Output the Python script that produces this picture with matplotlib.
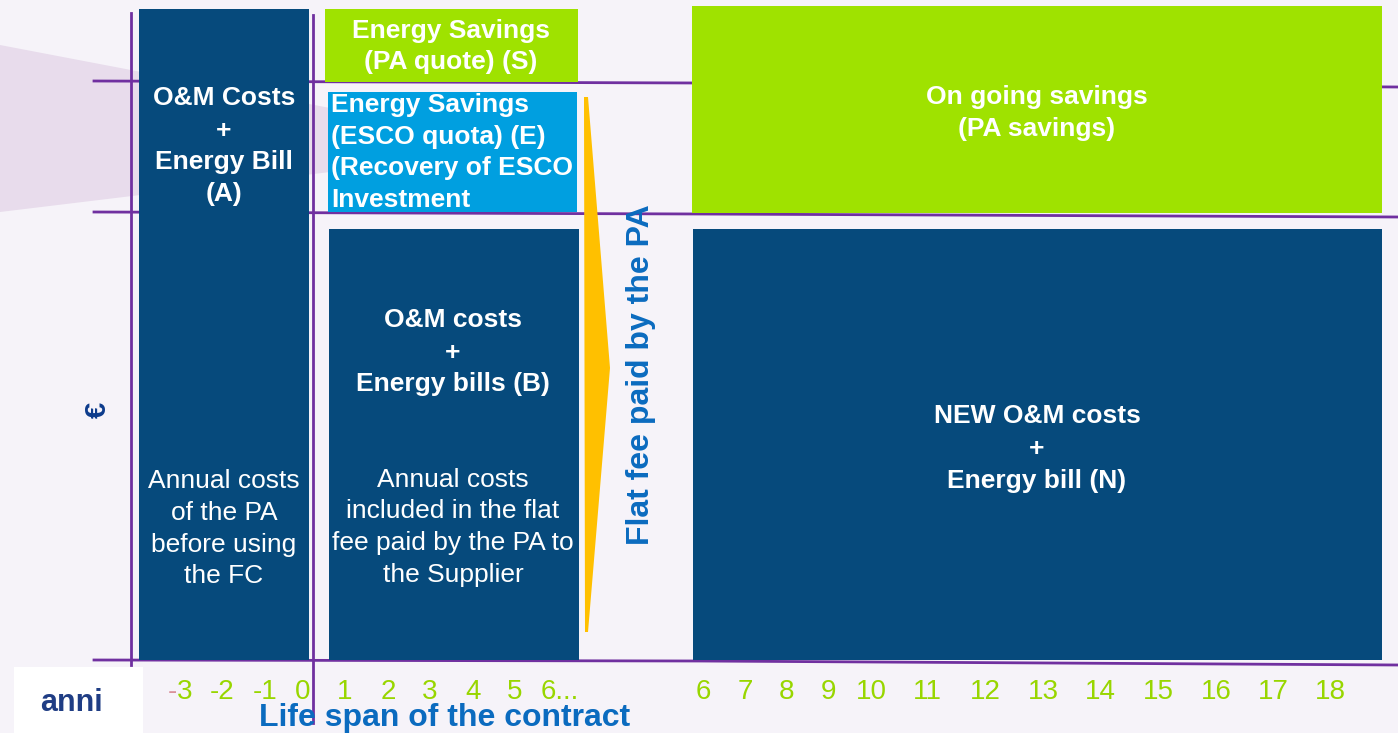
import matplotlib
matplotlib.use("Agg")
import matplotlib.pyplot as plt
from matplotlib.patches import Rectangle, Polygon
from matplotlib import font_manager

# ---------------- data ----------------
years_before = ["-3", "-2", "-1", "0"]
years_contract = ["1", "2", "3", "4", "5", "6..."]
years_after = ["6", "7", "8", "9", "10", "11", "12", "13", "14", "15", "16", "17", "18"]

box_names = ["A", "S", "E", "B", "G", "N"]
box_titles = [
    ["O&M Costs", "+", "Energy Bill", "(A)"],
    ["Energy Savings", "(PA quote) (S)"],
    ["Energy Savings", "(ESCO quota) (E)", "(Recovery of ESCO", "Investment"],
    ["O&M costs", "+", "Energy bills (B)"],
    ["On going savings", "(PA savings)"],
    ["NEW O&M costs", "+", "Energy bill (N)"],
]
box_notes = [
    ["Annual costs", "of the PA", "before using", "the FC"],
    [],
    [],
    ["Annual costs", "included in the flat", "fee paid by the PA to", "the Supplier"],
    [],
    [],
]
x_title = "Life span of the contract"
y_title = "€"
arrow_label = "Flat fee paid by the PA"
unit_label = "anni"

# ---------------- layout (pixel space) ----------------
W, H = 1398, 733
NAVY = "#064a7c"
GREEN = "#9fe200"
BLUE = "#009fe0"
PURPLE = "#7030a0"
TICKG = "#98d600"
TXTBLUE = "#0b6bbf"
SANS = "Liberation Sans"

try:
    font_manager.findfont("Liberation Sans Narrow", fallback_to_default=False)
    NARROW, TICKSIZE = "Liberation Sans Narrow", 21
except Exception:
    NARROW, TICKSIZE = SANS, 20

box_geom = {  # x0, y0, x1, y1
    "A": (139, 9, 309, 660),
    "S": (325, 9, 578, 82),
    "E": (328, 92, 577, 212),
    "B": (329, 229, 579, 660),
    "G": (692, 6, 1382, 213),
    "N": (693, 229, 1382, 660),
}
box_color = {"A": NAVY, "S": GREEN, "E": BLUE, "B": NAVY, "G": GREEN, "N": NAVY}
title_x = {"A": 224, "S": 451, "E": 331, "B": 453, "G": 1037, "N": 1037}
title_base = {"A": [105, 138, 169, 201], "S": [38, 69], "E": [112, 144, 175, 207],
              "B": [327, 360, 391], "G": [104, 136], "N": [423, 456, 488]}
title_align = {"A": "center", "S": "center", "E": "left", "B": "center",
               "G": "center", "N": "center"}
note_x = {"A": 224, "B": 453}
note_base = {"A": [488, 520, 552, 583], "B": [487, 518, 550, 582]}

x_before = [180, 222, 265, 303]
x_contract = [345, 388, 430, 473, 515, 560]
x_after = [703, 745, 786, 829, 871, 927, 985, 1043, 1100, 1158, 1216, 1273, 1330]

fig = plt.figure(figsize=(W / 100, H / 100), dpi=100)
ax = fig.add_axes([0, 0, 1, 1])
ax.set_xlim(0, W)
ax.set_ylim(H, 0)
ax.axis("off")
fig.patch.set_facecolor("#f6f3f9")

# background wave
ax.add_patch(Polygon([(0, 45), (330, 108), (330, 172), (0, 212)], closed=True,
                     facecolor="#e8dcec", edgecolor="none", zorder=0))

# axis / grid lines
lw = 2.0
ax.plot([131, 131], [13, 665], color=PURPLE, lw=lw, zorder=1)
ax.plot([313, 313], [15, 723], color=PURPLE, lw=lw, zorder=4)
ax.plot([94, 700, W], [660, 661, 665], color=PURPLE, lw=lw, zorder=1)
ax.plot([94, 700, W], [81, 83, 87], color=PURPLE, lw=lw, zorder=1)
ax.plot([94, 700, W], [212, 214, 217], color=PURPLE, lw=lw, zorder=1)

# boxes
for name, title, note in zip(box_names, box_titles, box_notes):
    x0, y0, x1, y1 = box_geom[name]
    ax.add_patch(Rectangle((x0, y0), x1 - x0, y1 - y0, facecolor=box_color[name],
                           edgecolor="none", zorder=2))
    for line, yb in zip(title, title_base[name]):
        ax.text(title_x[name], yb, line, color="white", fontsize=19,
                fontweight="bold", family=SANS, ha=title_align[name],
                va="baseline", zorder=5)
    for line, yb in zip(note, note_base.get(name, [])):
        ax.text(note_x[name], yb, line, color="white", fontsize=19, family=SANS,
                ha="center", va="baseline", zorder=5)

# arrow
ax.add_patch(Polygon([(584, 97), (588, 97), (610, 368), (588, 632), (585, 632)],
                     closed=True, facecolor="#ffc000", edgecolor="none", zorder=3))
ax.text(641, 375, arrow_label, rotation=90, color=TXTBLUE, fontsize=23,
        fontweight="bold", family=SANS, ha="center", va="center", zorder=5)

# euro
ax.text(98, 410, y_title, rotation=90, color="#0d3b8c", fontsize=21,
        fontweight="bold", family=SANS, ha="center", va="center")

# anni box
ax.add_patch(Rectangle((14, 667), 129, 70, facecolor="white", edgecolor="none", zorder=2))
ax.text(71, 711, unit_label, color="#1f3d84", fontsize=22, fontweight="bold",
        family=NARROW, ha="center", va="baseline", zorder=5)

# ticks
tick_font = dict(color=TICKG, fontsize=TICKSIZE, family=NARROW,
                 va="baseline", zorder=5)
labels = years_before + years_contract + years_after
xs = x_before + x_contract + x_after
for lab, x in zip(labels, xs):
    if lab.startswith("-") and lab == labels[0]:
        # first minus sign is drawn in a pinkish tone in the reference
        ax.text(x - 3, 699, lab[1:], ha="left", **tick_font)
        ax.text(x - 3, 699, lab[0], color="#d9909a", fontsize=TICKSIZE,
                family=NARROW, ha="right", va="baseline", zorder=5)
    else:
        ax.text(x, 699, lab, ha="center", **tick_font)

ax.text(445, 726, x_title, color=TXTBLUE, fontsize=23, fontweight="bold",
        family=SANS, ha="center", va="baseline", zorder=5)

fig.savefig("out.png", dpi=100, facecolor=fig.get_facecolor())
